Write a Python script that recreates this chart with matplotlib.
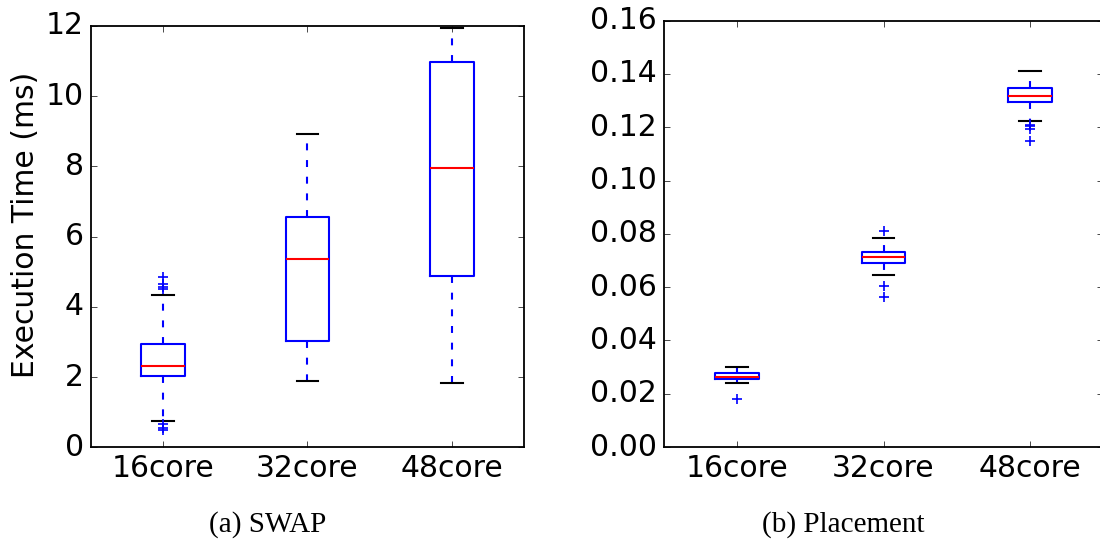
import matplotlib
matplotlib.use('Agg')
import matplotlib.pyplot as plt

plt.style.use('classic')
plt.rcParams['font.family'] = ['DejaVu Sans']
plt.rcParams['lines.scale_dashes'] = False

labels = ['16core', '32core', '48core']

# SWAP execution time (ms): box statistics
swap_q1 = [2.03, 3.03, 4.88]
swap_med = [2.32, 5.36, 7.95]
swap_q3 = [2.95, 6.56, 10.98]
swap_lo = [0.76, 1.89, 1.83]
swap_hi = [4.35, 8.92, 11.94]
swap_fliers = [[4.51, 4.57, 4.65, 4.85, 0.66, 0.55, 0.49], [], []]

# Placement execution time (ms)
place_q1 = [0.0254, 0.0691, 0.1295]
place_med = [0.0264, 0.0712, 0.1316]
place_q3 = [0.0277, 0.0733, 0.1346]
place_lo = [0.0239, 0.0647, 0.1224]
place_hi = [0.0301, 0.0784, 0.1413]
place_fliers = [[0.0182], [0.0809, 0.0604, 0.0563], [0.1210, 0.1203, 0.1195, 0.1147]]


def make_stats(q1, med, q3, lo, hi, fliers):
    stats = []
    for i in range(len(q1)):
        stats.append({
            'label': labels[i],
            'q1': q1[i], 'med': med[i], 'q3': q3[i],
            'whislo': lo[i], 'whishi': hi[i],
            'fliers': fliers[i],
        })
    return stats


def draw(ax, stats):
    ax.bxp(stats, widths=0.3,
           boxprops=dict(color='b', linewidth=1.5),
           whiskerprops=dict(color='b', linewidth=1.5, linestyle=(0, (5, 7))),
           capprops=dict(color='k', linewidth=1.5),
           medianprops=dict(color='r', linewidth=1.5),
           flierprops=dict(marker='+', markeredgecolor='b', markerfacecolor='none',
                           markersize=7, markeredgewidth=1.2, linestyle='none'))


fig = plt.figure(figsize=(11, 5.46), dpi=100, facecolor='white')
ax1 = fig.add_axes([90.7 / 1100, 1 - 447.3 / 546, 433.6 / 1100, 421.3 / 546])
ax2 = fig.add_axes([664 / 1100, 1 - 447 / 546, 439 / 1100, 426.3 / 546])

draw(ax1, make_stats(swap_q1, swap_med, swap_q3, swap_lo, swap_hi, swap_fliers))
draw(ax2, make_stats(place_q1, place_med, place_q3, place_lo, place_hi, place_fliers))

ax1.set_xlim(0.5, 3.5)
ax1.set_ylim(0, 12)
ax1.set_yticks(range(0, 13, 2))
ax2.set_xlim(0.5, 3.5)
ax2.set_ylim(0, 0.16)
ax2.set_yticks([0.0, 0.02, 0.04, 0.06, 0.08, 0.10, 0.12, 0.14, 0.16])
ax2.set_yticklabels(['%.2f' % v for v in ax2.get_yticks()])

for ax in (ax1, ax2):
    ax.set_facecolor('white')
    ax.tick_params(labelsize=21.5, pad=5)
    ax.set_xticklabels(labels)
    for sp in ax.spines.values():
        sp.set_linewidth(1.3)

ax1.set_ylabel('Execution Time (ms)', fontsize=21.5)
ax1.yaxis.set_label_coords(-0.117, 0.528)

fig.text(268 / 1100, 1 - 525 / 546, '(a) SWAP', family='Liberation Serif',
         fontsize=21, ha='center', va='center')
fig.text(843 / 1100, 1 - 525 / 546, '(b) Placement', family='Liberation Serif',
         fontsize=21, ha='center', va='center')

fig.savefig('out.png', dpi=100, facecolor='white')
